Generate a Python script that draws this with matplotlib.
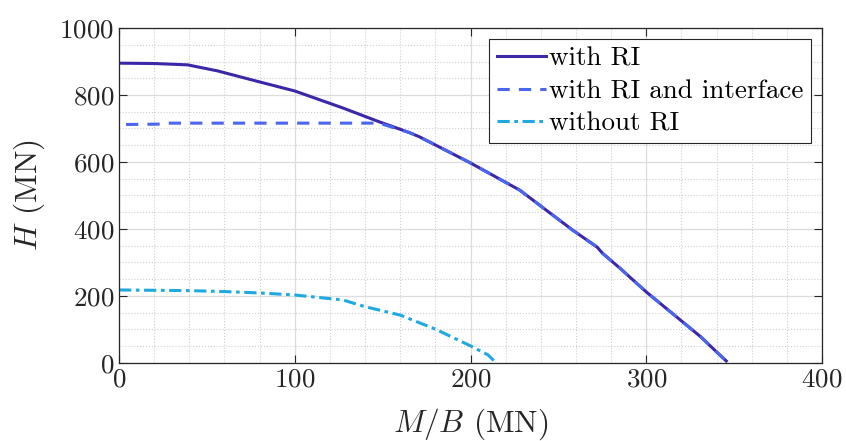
import matplotlib
matplotlib.use("Agg")
import matplotlib.pyplot as plt
from matplotlib.ticker import MultipleLocator

plt.rcParams['font.family'] = ['cmr10', 'DejaVu Serif']
plt.rcParams['mathtext.fontset'] = 'cm'
plt.rcParams['axes.formatter.use_mathtext'] = True

# with RI
m_ri = [0, 20, 39, 56, 80, 100, 127.5, 147, 165.6, 171, 200, 228, 258, 272, 275, 285, 300, 331, 340, 345.5]
h_ri = [895, 894, 890, 872, 839, 812, 761, 722, 687, 675, 597, 516, 397, 346, 328, 283, 212, 78, 33, 6]

# with RI and interface
m_int = [4, 22, 28, 80, 148, 165.6, 171, 200, 228, 258, 272, 275, 285, 300, 331, 340, 345.5]
h_int = [712, 713, 716, 716, 716, 687, 675, 597, 516, 397, 346, 328, 283, 212, 78, 33, 6]

# without RI
m_no = [0, 20, 40, 61, 80, 100, 127.5, 140, 160, 180, 200, 210, 213.8]
h_no = [218, 217, 216, 213, 209, 203, 188, 168, 143, 101, 51, 24, 4]

c_ri = '#3d26a8'
c_int = '#4a66f0'
c_no = '#1ea9df'

fig = plt.figure(figsize=(8.46, 4.41), dpi=100)
ax = fig.add_axes([0.1407, 0.1769, 0.831, 0.7596])

ax.plot(m_ri, h_ri, color=c_ri, lw=2.2, ls='-', label='with RI')
ax.plot(m_int, h_int, color=c_int, lw=2.2, ls=(0, (4, 3)), label='with RI and interface')
ax.plot(m_no, h_no, color=c_no, lw=2.2, ls=(0, (4, 1.5, 1.2, 1.5)), label='without RI')

ax.set_xlim(0, 400)
ax.set_ylim(0, 1000)
ax.xaxis.set_major_locator(MultipleLocator(100))
ax.xaxis.set_minor_locator(MultipleLocator(20))
ax.yaxis.set_major_locator(MultipleLocator(200))
ax.yaxis.set_minor_locator(MultipleLocator(50))

ax.grid(which='major', color='#dcdcdc', lw=0.9, ls='-')
ax.grid(which='minor', color='#cfcfcf', lw=0.8, ls=':')
ax.set_axisbelow(True)

ax.tick_params(which='both', direction='in', top=True, right=True, labelsize=19.5, colors='#262626')
ax.tick_params(which='major', length=6, width=0.8)
ax.tick_params(which='minor', length=0, width=0)
for s in ax.spines.values():
    s.set_color('#262626')
    s.set_linewidth(0.9)

ax.set_xlabel(r'$M/B$ (MN)', fontsize=22.5, color='#262626', labelpad=11)
ax.set_ylabel(r'$H$ (MN)', fontsize=22.5, color='#262626', labelpad=9)

leg = ax.legend(loc='upper right', fontsize=19.5, frameon=True, fancybox=False,
                edgecolor='#262626', framealpha=1, handlelength=1.8, handletextpad=0.1,
                borderpad=0.3, labelspacing=0.3, borderaxespad=0.4)
leg.get_frame().set_linewidth(0.8)

fig.savefig('out.png', dpi=100)
